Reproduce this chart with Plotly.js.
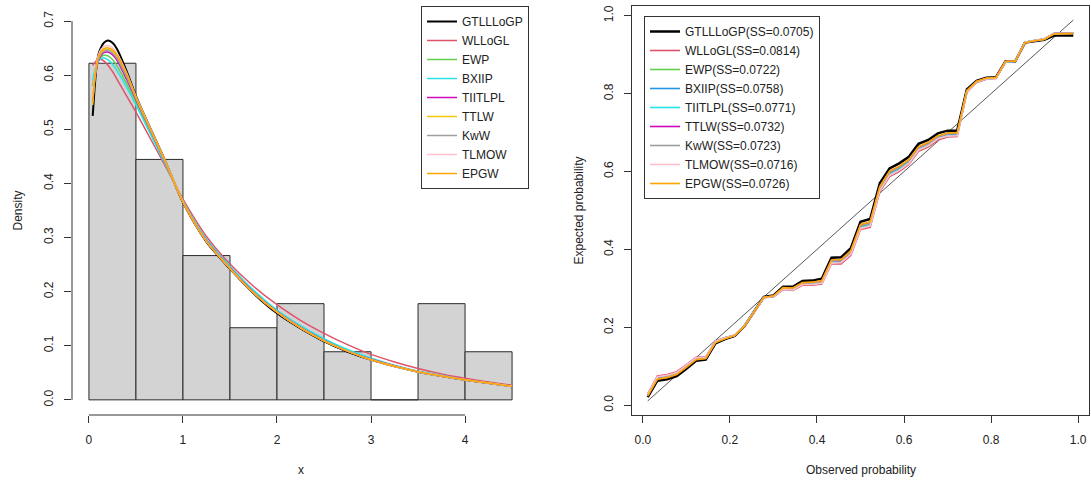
<!DOCTYPE html>
<html>
<head>
<meta charset="utf-8">
<script src="https://cdn.plot.ly/plotly-3.0.1.min.js"></script>
<style>
html,body{margin:0;padding:0;background:#fff;}
#chart{width:1091px;height:482px;}
</style>
</head>
<body>
<div id="chart"></div>
<script>
// ---------- Left panel: histogram + fitted densities ----------
const binCenters = [0.25, 0.75, 1.25, 1.75, 2.25, 2.75, 3.25, 3.75, 4.25];
const binDensity = [0.6222, 0.4444, 0.2667, 0.1333, 0.1778, 0.0889, 0, 0.1778, 0.0889];

const densX = [0.04,0.06,0.08,0.1,0.13,0.16,0.2,0.25,0.3,0.4,0.5,0.6,0.8,1.0,1.25,1.5,1.75,2.0,2.25,2.5,2.75,3.0,3.25,3.5,3.75,4.0,4.25,4.5];
const densGTLLLoGP = [0.525,0.575,0.615,0.638,0.652,0.66,0.664,0.66,0.648,0.608,0.562,0.522,0.446,0.365,0.292,0.242,0.197,0.16,0.132,0.108,0.089,0.074,0.062,0.052,0.044,0.037,0.031,0.025];
const densWLLoGL   = [0.618,0.623,0.627,0.629,0.629,0.626,0.619,0.607,0.592,0.562,0.532,0.5,0.436,0.371,0.302,0.251,0.21,0.176,0.147,0.123,0.102,0.084,0.07,0.058,0.048,0.04,0.033,0.027];
const densEWP      = [0.58,0.603,0.617,0.626,0.634,0.637,0.636,0.629,0.617,0.585,0.55,0.514,0.442,0.367,0.296,0.245,0.201,0.164,0.135,0.111,0.091,0.076,0.063,0.052,0.044,0.037,0.031,0.025];
const densBXIIP    = [0.59,0.608,0.619,0.626,0.631,0.632,0.629,0.621,0.608,0.578,0.545,0.51,0.44,0.368,0.297,0.247,0.203,0.166,0.137,0.113,0.093,0.077,0.064,0.053,0.045,0.037,0.031,0.025];
const densTIITLPL  = [0.55,0.588,0.612,0.626,0.637,0.642,0.643,0.638,0.627,0.593,0.555,0.518,0.444,0.366,0.294,0.244,0.199,0.163,0.134,0.11,0.09,0.075,0.063,0.052,0.044,0.037,0.031,0.025];
const densTTLW     = [0.545,0.588,0.614,0.629,0.641,0.646,0.648,0.644,0.634,0.6,0.558,0.52,0.445,0.366,0.293,0.243,0.198,0.162,0.133,0.109,0.09,0.074,0.062,0.052,0.044,0.037,0.031,0.025];
const densKwW      = [0.552,0.59,0.614,0.628,0.639,0.644,0.646,0.641,0.631,0.597,0.557,0.519,0.445,0.366,0.293,0.243,0.198,0.162,0.133,0.109,0.09,0.074,0.062,0.052,0.044,0.037,0.031,0.025];
const densTLMOW    = [0.56,0.598,0.622,0.637,0.648,0.653,0.655,0.651,0.64,0.605,0.561,0.522,0.446,0.366,0.293,0.243,0.198,0.162,0.133,0.109,0.09,0.074,0.062,0.052,0.044,0.037,0.031,0.025];
const densEPGW     = [0.55,0.592,0.618,0.633,0.644,0.649,0.651,0.647,0.637,0.603,0.56,0.521,0.446,0.366,0.293,0.243,0.198,0.162,0.133,0.109,0.09,0.074,0.062,0.052,0.044,0.037,0.031,0.025];

const densNames  = ["GTLLLoGP","WLLoGL","EWP","BXIIP","TIITLPL","TTLW","KwW","TLMOW","EPGW"];
const densColors = ["#000000","#DF536B","#61D04F","#28E2E5","#CD0BBC","#F5C710","#9E9E9E","#FFC0CB","#FFA500"];
const densSeries = [densGTLLLoGP,densWLLoGL,densEWP,densBXIIP,densTIITLPL,densTTLW,densKwW,densTLMOW,densEPGW];

// ---------- Right panel: PP plot ----------
const ppObs = [0.0111,0.0333,0.0556,0.0778,0.1,0.1222,0.1444,0.1667,0.1889,0.2111,0.2333,0.2556,0.2778,0.3,0.3222,0.3444,0.3667,0.3889,0.4111,0.4333,0.4556,0.4778,0.5,0.5222,0.5444,0.5667,0.5889,0.6111,0.6333,0.6556,0.6778,0.7,0.7222,0.7444,0.7667,0.7889,0.8111,0.8333,0.8556,0.8778,0.9,0.9222,0.9444,0.9667,0.9889];
const ppGTLLLoGP = [0.021,0.063,0.067,0.075,0.094,0.114,0.117,0.159,0.170,0.178,0.203,0.240,0.278,0.282,0.304,0.304,0.319,0.320,0.325,0.379,0.380,0.403,0.471,0.478,0.570,0.608,0.621,0.638,0.671,0.681,0.698,0.705,0.705,0.811,0.833,0.841,0.842,0.883,0.883,0.931,0.935,0.938,0.949,0.949,0.949];
const ppWLLoGL   = [0.029,0.075,0.079,0.086,0.104,0.123,0.125,0.165,0.174,0.180,0.204,0.240,0.276,0.278,0.297,0.295,0.308,0.308,0.311,0.363,0.363,0.385,0.451,0.457,0.548,0.587,0.600,0.618,0.652,0.663,0.681,0.689,0.690,0.803,0.828,0.837,0.839,0.882,0.883,0.932,0.937,0.941,0.954,0.955,0.955];
const ppEWP      = [0.025,0.069,0.073,0.081,0.099,0.119,0.121,0.162,0.172,0.179,0.203,0.240,0.277,0.280,0.300,0.300,0.313,0.314,0.318,0.371,0.371,0.394,0.461,0.468,0.559,0.598,0.611,0.628,0.661,0.672,0.690,0.697,0.697,0.807,0.831,0.839,0.840,0.882,0.883,0.932,0.936,0.940,0.954,0.955,0.955];
const ppBXIIP    = [0.026,0.071,0.075,0.082,0.101,0.120,0.122,0.163,0.173,0.179,0.204,0.240,0.277,0.279,0.299,0.298,0.312,0.312,0.316,0.369,0.369,0.391,0.458,0.464,0.556,0.594,0.607,0.625,0.659,0.669,0.687,0.695,0.695,0.806,0.830,0.838,0.840,0.882,0.883,0.932,0.936,0.940,0.954,0.955,0.955];
const ppTIITLPL  = [0.027,0.072,0.076,0.083,0.102,0.121,0.123,0.164,0.173,0.180,0.204,0.240,0.277,0.279,0.299,0.297,0.311,0.311,0.315,0.367,0.367,0.390,0.456,0.462,0.554,0.592,0.605,0.623,0.657,0.668,0.685,0.693,0.694,0.805,0.829,0.838,0.840,0.882,0.883,0.932,0.937,0.940,0.954,0.955,0.955];
const ppTTLW     = [0.025,0.068,0.072,0.080,0.099,0.118,0.121,0.162,0.172,0.179,0.203,0.240,0.277,0.280,0.301,0.300,0.314,0.315,0.319,0.372,0.372,0.395,0.462,0.469,0.560,0.599,0.612,0.629,0.662,0.673,0.690,0.698,0.698,0.807,0.831,0.839,0.841,0.883,0.883,0.931,0.936,0.940,0.954,0.955,0.955];
const ppKwW      = [0.025,0.069,0.073,0.081,0.100,0.119,0.121,0.162,0.172,0.179,0.203,0.240,0.277,0.280,0.300,0.299,0.313,0.314,0.317,0.370,0.371,0.394,0.460,0.467,0.558,0.597,0.610,0.628,0.661,0.671,0.689,0.697,0.697,0.807,0.831,0.839,0.840,0.882,0.883,0.932,0.936,0.940,0.954,0.955,0.955];
const ppTLMOW    = [0.028,0.073,0.077,0.084,0.103,0.122,0.124,0.164,0.173,0.180,0.204,0.240,0.276,0.279,0.298,0.296,0.310,0.310,0.313,0.365,0.366,0.388,0.454,0.460,0.551,0.590,0.603,0.621,0.655,0.666,0.684,0.691,0.692,0.804,0.829,0.838,0.839,0.882,0.883,0.932,0.937,0.941,0.954,0.955,0.955];
const ppEPGW     = [0.024,0.067,0.071,0.079,0.097,0.117,0.120,0.161,0.171,0.179,0.203,0.240,0.277,0.281,0.302,0.301,0.315,0.316,0.320,0.373,0.374,0.397,0.464,0.471,0.562,0.601,0.614,0.631,0.664,0.675,0.692,0.699,0.700,0.808,0.831,0.840,0.841,0.883,0.883,0.931,0.936,0.939,0.953,0.954,0.954];

const ppNames  = ["GTLLLoGP(SS=0.0705)","WLLoGL(SS=0.0814)","EWP(SS=0.0722)","BXIIP(SS=0.0758)","TIITLPL(SS=0.0771)","TTLW(SS=0.0732)","KwW(SS=0.0723)","TLMOW(SS=0.0716)","EPGW(SS=0.0726)"];
const ppColors = ["#000000","#DF536B","#61D04F","#2297E6","#28E2E5","#CD0BBC","#9E9E9E","#FFC0CB","#FFA500"];
const ppSeries = [ppGTLLLoGP,ppWLLoGL,ppEWP,ppBXIIP,ppTIITLPL,ppTTLW,ppKwW,ppTLMOW,ppEPGW];

// ---------- Geometry ----------
const W = 1091, H = 482;
const yDom = [1 - 415/H, 1 - 6/H];
const xDomL = [72/W, 529/W];
const xDomR = [632/W, 1089/W];
const FONT = "Liberation Sans, Arial, sans-serif";
const TXT = "#222222";
const AX = "#333333";

const traces = [];
traces.push({
  type: "bar", x: binCenters, y: binDensity, width: 0.5,
  marker: {color: "#D3D3D3", line: {color: "#2a2a2a", width: 1}},
  xaxis: "x", yaxis: "y", showlegend: false, hoverinfo: "skip"
});
densSeries.forEach((s, k) => {
  traces.push({
    type: "scatter", mode: "lines", x: densX, y: s, name: densNames[k],
    line: {color: densColors[k], width: k === 0 ? 2 : 1.5, shape: "spline", smoothing: 0.8},
    xaxis: "x", yaxis: "y", legend: "legend"
  });
});
traces.push({
  type: "scatter", mode: "lines", x: [ppObs[0], ppObs[ppObs.length-1]], y: [ppObs[0], ppObs[ppObs.length-1]],
  line: {color: "#444444", width: 0.9}, xaxis: "x2", yaxis: "y2", showlegend: false, hoverinfo: "skip"
});
ppSeries.forEach((s, k) => {
  traces.push({
    type: "scatter", mode: "lines", x: ppObs, y: s, name: ppNames[k],
    line: {color: ppColors[k], width: k === 0 ? 2.5 : 1.6},
    xaxis: "x2", yaxis: "y2", legend: "legend2"
  });
});

const tickFont = {family: FONT, size: 12, color: TXT};
const legendCommon = {
  bgcolor: "#FFFFFF", bordercolor: "#333333", borderwidth: 1,
  font: {family: FONT, size: 12, color: TXT}, tracegroupgap: 0
};

const layout = {
  width: W, height: H,
  margin: {l: 0, r: 0, t: 0, b: 0},
  paper_bgcolor: "#FFFFFF", plot_bgcolor: "#FFFFFF",
  font: {family: FONT, size: 12, color: TXT},
  bargap: 0,
  xaxis: {
    domain: xDomL, anchor: "y", range: [-0.18, 4.68],
    tickvals: [0,1,2,3,4], ticktext: ["0","1","2","3","4"],
    ticks: "outside", ticklen: 7, tickcolor: AX, tickwidth: 1,
    showline: false, showgrid: false, zeroline: false,
    tickfont: tickFont, ticklabelstandoff: 7
  },
  yaxis: {
    domain: yDom, anchor: "x", range: [-0.028, 0.728],
    tickvals: [0,0.1,0.2,0.3,0.4,0.5,0.6,0.7], tickformat: ".1f",
    ticks: "outside", ticklen: 7, tickcolor: AX, tickwidth: 1,
    showline: false, showgrid: false, zeroline: false,
    tickfont: tickFont, tickangle: -90, ticklabelstandoff: 6
  },
  xaxis2: {
    domain: xDomR, anchor: "y2", range: [-0.025, 1.025],
    tickvals: [0,0.2,0.4,0.6,0.8,1.0], tickformat: ".1f",
    ticks: "outside", ticklen: 7, tickcolor: AX, tickwidth: 1,
    showline: true, mirror: true, linecolor: AX, linewidth: 1,
    showgrid: false, zeroline: false,
    tickfont: tickFont, ticklabelstandoff: 7
  },
  yaxis2: {
    domain: yDom, anchor: "x2", range: [-0.025, 1.025],
    tickvals: [0,0.2,0.4,0.6,0.8,1.0], tickformat: ".1f",
    ticks: "outside", ticklen: 7, tickcolor: AX, tickwidth: 1,
    showline: true, mirror: true, linecolor: AX, linewidth: 1,
    showgrid: false, zeroline: false,
    tickfont: tickFont, tickangle: -90, ticklabelstandoff: 6
  },
  legend: Object.assign({}, legendCommon, {
    x: xDomL[1], xanchor: "right", y: yDom[1], yanchor: "top"
  }),
  legend2: Object.assign({}, legendCommon, {
    x: 644/W, xanchor: "left", y: 1 - 16/H, yanchor: "top"
  }),
  shapes: [
    {type: "line", xref: "x", yref: "paper", x0: 0, x1: 4, y0: yDom[0], y1: yDom[0], line: {color: AX, width: 1}},
    {type: "line", xref: "paper", yref: "y", x0: xDomL[0], x1: xDomL[0], y0: 0, y1: 0.7, line: {color: AX, width: 1}}
  ],
  annotations: [
    {text: "x", xref: "paper", yref: "paper", x: (xDomL[0]+xDomL[1])/2, y: 1 - 470/H, xanchor: "center", yanchor: "middle", showarrow: false, font: {family: FONT, size: 12, color: TXT}},
    {text: "Density", xref: "paper", yref: "paper", x: 17/W, y: (yDom[0]+yDom[1])/2, xanchor: "center", yanchor: "middle", textangle: -90, showarrow: false, font: {family: FONT, size: 12, color: TXT}},
    {text: "Observed probability", xref: "paper", yref: "paper", x: (xDomR[0]+xDomR[1])/2, y: 1 - 470/H, xanchor: "center", yanchor: "middle", showarrow: false, font: {family: FONT, size: 12, color: TXT}},
    {text: "Expected probability", xref: "paper", yref: "paper", x: 578/W, y: (yDom[0]+yDom[1])/2, xanchor: "center", yanchor: "middle", textangle: -90, showarrow: false, font: {family: FONT, size: 12, color: TXT}}
  ]
};

Plotly.newPlot("chart", traces, layout, {staticPlot: true, displayModeBar: false});
</script>
</body>
</html>
